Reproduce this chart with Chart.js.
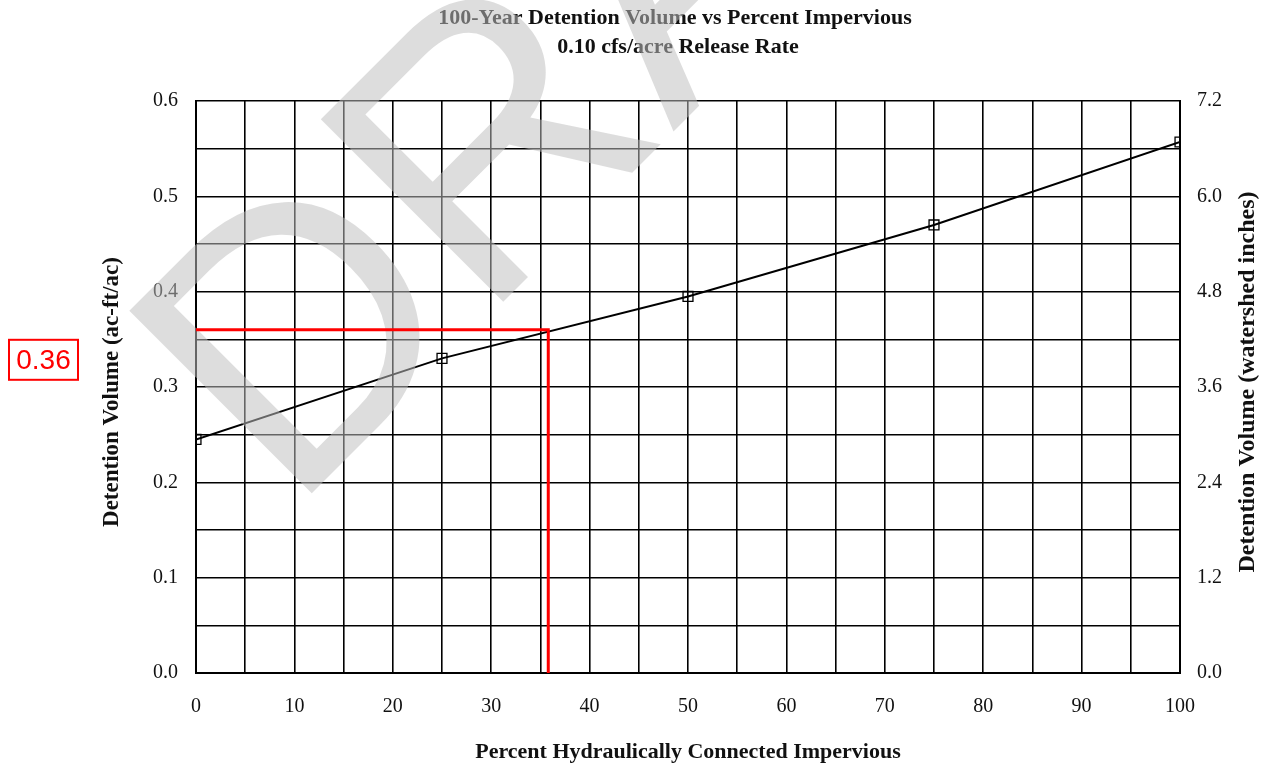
<!DOCTYPE html>
<html>
<head>
<meta charset="utf-8">
<script src="https://cdn.jsdelivr.net/npm/chart.js@4.4.1/dist/chart.umd.min.js"></script>
<style>
  body { margin: 0; background: #fff; }
  #wrap { width: 1267px; height: 765px; }
</style>
</head>
<body>
<div id="wrap"><canvas id="myChart" width="1267" height="765"></canvas></div>
<script>
// data
var percentImpervious = [0, 25, 50, 75, 100];
var detentionVolume = [0.245, 0.33, 0.395, 0.47, 0.557];

// red read-off line (0.36 ac-ft/ac)
var readX = [0, 35.8, 35.8];
var readY = [0.36, 0.36, 0];
var readLabel = "0.36";

var titleLines = ["100-Year Detention Volume vs Percent Impervious", "0.10 cfs/acre Release Rate"];
var xTitle = "Percent Hydraulically Connected Impervious";
var yTitle = "Detention Volume (ac-ft/ac)";
var y2Title = "Detention Volume (watershed inches)";

var curve = [];
percentImpervious.forEach((x, i) => {
    curve.push({ x: x, y: detentionVolume[i] });
});
var readLine = [];
readX.forEach((x, i) => {
    readLine.push({ x: x, y: readY[i] });
});

var serif = "'Liberation Serif', 'Times New Roman', serif";

function noPad(scale) {
    scale.paddingLeft = 0;
    scale.paddingRight = 0;
    scale.paddingTop = 0;
    scale.paddingBottom = 0;
}

function isMultiple(v, step) {
    var r = v / step;
    return Math.abs(r - Math.round(r)) < 1e-6;
}

function vText(ctx, text, x, y, size) {
    ctx.save();
    ctx.fillStyle = "#111";
    ctx.textAlign = "center";
    ctx.textBaseline = "middle";
    ctx.font = "bold " + size + "px " + serif;
    ctx.translate(x, y);
    ctx.rotate(-Math.PI / 2);
    ctx.fillText(text, 0, 0);
    ctx.restore();
}

// titles go under the watermark
function drawTitles(chart) {
    var ctx = chart.ctx;
    ctx.save();
    ctx.fillStyle = "#111";
    ctx.textAlign = "center";
    ctx.textBaseline = "middle";
    ctx.font = "bold 22px " + serif;
    ctx.fillText(titleLines[0], 675, 18);
    ctx.fillText(titleLines[1], 678, 47);
    ctx.fillText(xTitle, 688, 752);
    ctx.restore();

    vText(ctx, yTitle, 112, 392, 23);
    vText(ctx, y2Title, 1248, 382, 24);
}

function drawWatermark(chart) {
    var ctx = chart.ctx;
    ctx.save();
    ctx.fillStyle = "rgba(190, 190, 190, 0.53)";
    ctx.font = "375px 'Liberation Sans', Arial, sans-serif";
    ctx.textBaseline = "alphabetic";
    ctx.translate(290, 515);
    ctx.rotate(-45 * Math.PI / 180);
    ctx.fillText("DRAFT", 0, 0);
    ctx.restore();
}

function drawReadLabel(chart) {
    var ctx = chart.ctx;
    var y = chart.scales.y.getPixelForValue(readY[0]) + 30;
    ctx.save();
    ctx.strokeStyle = "#ff0000";
    ctx.lineWidth = 2;
    ctx.strokeRect(9, y - 20, 69, 40);
    ctx.fillStyle = "#ff0000";
    ctx.font = "28px 'Liberation Sans', Arial, sans-serif";
    ctx.textAlign = "center";
    ctx.textBaseline = "middle";
    ctx.fillText(readLabel, 43.5, y + 1);
    ctx.restore();
}

const ctx = document.getElementById("myChart").getContext("2d");
const myChart = new Chart(ctx, {
    type: "line",
    plugins: [
        {
            id: "decor",
            beforeDraw: function (chart) {
                var c = chart.ctx;
                c.save();
                c.fillStyle = "#fff";
                c.fillRect(0, 0, chart.width, chart.height);
                c.restore();
                drawTitles(chart);
            },
            afterDatasetDraw: function (chart, args) {
                if (args.index === 1) drawWatermark(chart);
            },
            afterDraw: drawReadLabel,
        },
    ],
    data: {
        datasets: [
            {
                label: "read-off",
                data: readLine,
                borderColor: "#ff0000",
                borderWidth: 3,
                pointRadius: 0,
                tension: 0,
                yAxisID: "y",
            },
            {
                label: "Detention Volume",
                data: curve,
                borderColor: "#000",
                borderWidth: 2,
                pointStyle: "rect",
                pointRadius: 7,
                pointBorderWidth: 1.3,
                pointBorderColor: "#000",
                pointBackgroundColor: "rgba(0,0,0,0)",
                tension: 0,
                yAxisID: "y",
            },
        ],
    },
    options: {
        responsive: false,
        animation: false,
        layout: { padding: { top: 101, left: 0, right: 0, bottom: 0 } },
        plugins: {
            legend: { display: false },
            title: { display: false },
            tooltip: { enabled: false },
        },
        scales: {
            x: {
                type: "linear",
                min: 0,
                max: 100,
                afterFit: function (scale) {
                    scale.height = 92;
                    noPad(scale);
                },
                grid: { color: "#000", lineWidth: 1.6, drawTicks: false },
                border: { color: "#000", width: 2 },
                ticks: {
                    stepSize: 5,
                    padding: 22,
                    maxRotation: 0,
                    autoSkip: false,
                    color: "#111",
                    font: { family: serif, size: 20 },
                    callback: function (value) {
                        return isMultiple(value, 10) ? String(Math.round(value)) : "";
                    },
                },
            },
            y: {
                position: "left",
                min: 0,
                max: 0.6,
                afterFit: function (scale) {
                    scale.width = 196;
                    noPad(scale);
                },
                grid: { color: "#000", lineWidth: 1.6, drawTicks: false },
                border: { color: "#000", width: 2 },
                ticks: {
                    stepSize: 0.05,
                    padding: 18,
                    autoSkip: false,
                    color: "#111",
                    font: { family: serif, size: 20 },
                    callback: function (value) {
                        return isMultiple(value, 0.1) ? value.toFixed(1) : "";
                    },
                },
            },
            y2: {
                position: "right",
                min: 0,
                max: 7.2,
                afterFit: function (scale) {
                    scale.width = 87;
                    noPad(scale);
                },
                grid: { display: false, drawTicks: false },
                border: { color: "#000", width: 2 },
                ticks: {
                    stepSize: 1.2,
                    padding: 17,
                    autoSkip: false,
                    color: "#111",
                    font: { family: serif, size: 20 },
                    callback: function (value) {
                        return value.toFixed(1);
                    },
                },
            },
        },
    },
});
</script>
</body>
</html>
